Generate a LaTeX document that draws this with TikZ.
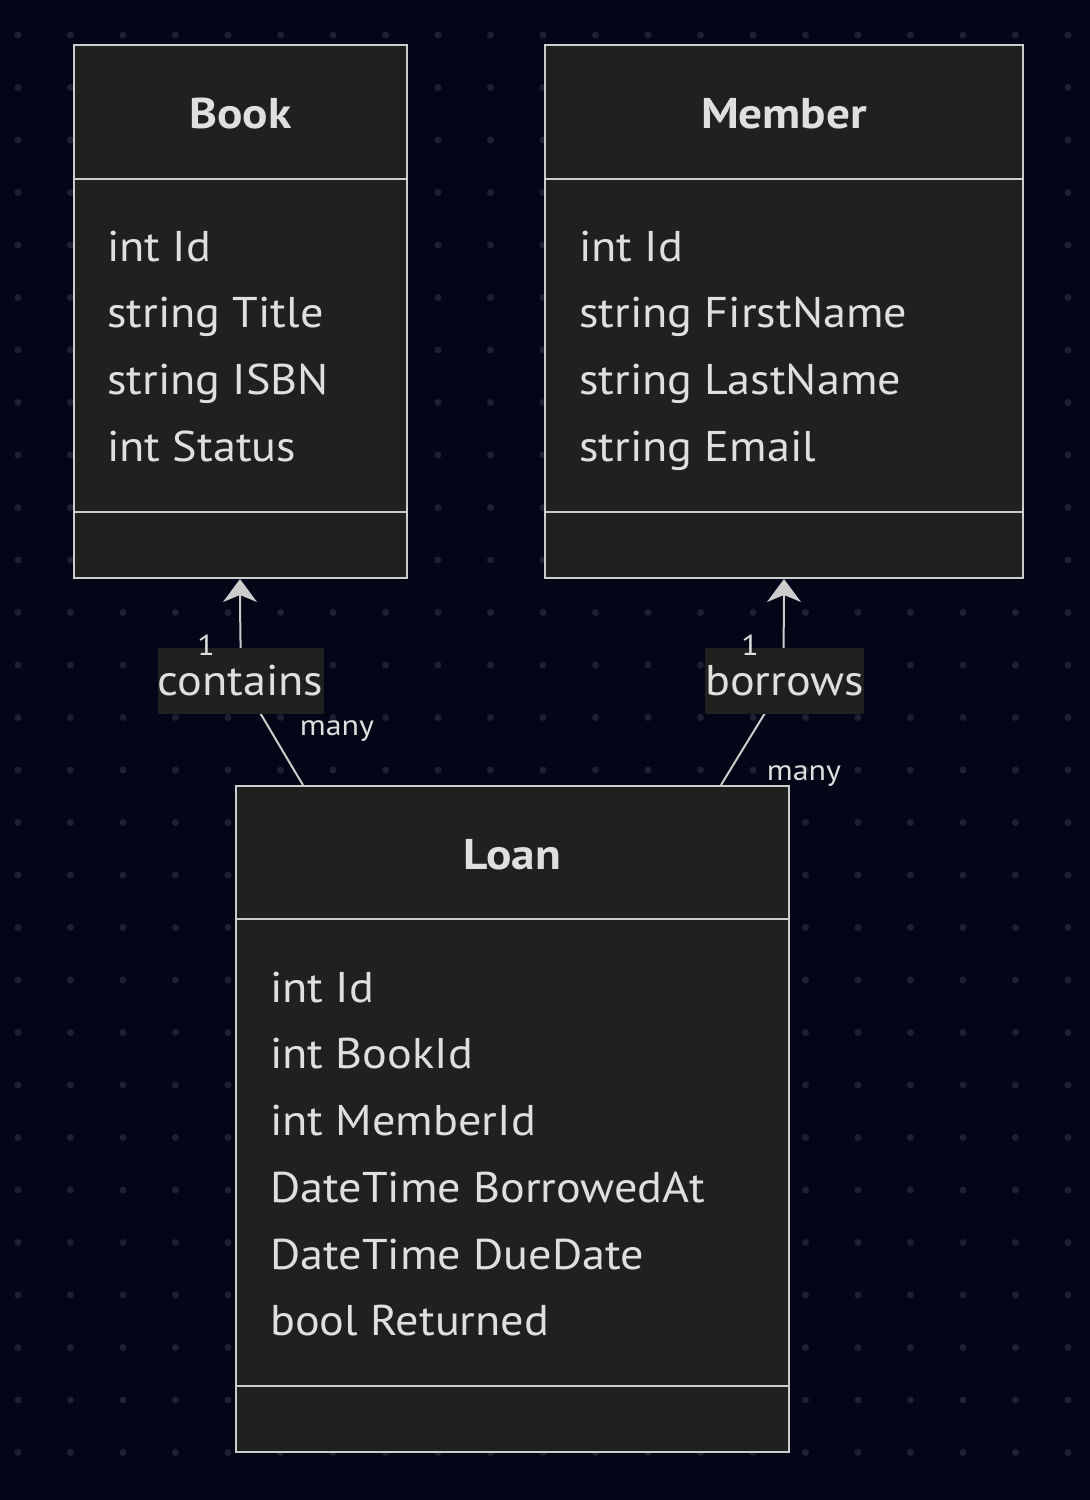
\documentclass[tikz,border=0pt]{standalone}
\usepackage{fontspec}
\setmainfont{PT Sans}
\newfontfamily\attrfont[FakeStretch=1.075]{PT Sans}
\newfontfamily\titlefont[FakeStretch=1.1]{PT Sans Bold}
\newfontfamily\cardfont[FakeStretch=1.1]{PT Sans}
\usetikzlibrary{arrows.meta}
\definecolor{bg}{HTML}{020617}
\definecolor{dotc}{HTML}{1D2030}
\definecolor{boxfill}{HTML}{1F2020}
\definecolor{boxline}{HTML}{CCCCCC}
\definecolor{txt}{HTML}{E0DFDF}
\tikzset{
  cbox/.style={draw=boxline, fill=boxfill, line width=2pt, inner sep=0pt, rectangle},
  divider/.style={draw=boxline, line width=2pt},
  attr/.style={anchor=base west, inner sep=0pt, text=txt, font=\attrfont\fontsize{43}{50}\selectfont},
  ctitle/.style={anchor=base, inner sep=0pt, text=txt, font=\titlefont\fontsize{43}{50}\selectfont},
  elabel/.style={fill=boxfill, inner sep=0pt, text=txt, minimum height=66pt, font=\attrfont\fontsize{43}{50}\selectfont},
  card/.style={anchor=base, inner sep=0pt, text=txt, font=\cardfont\fontsize{29}{30}\selectfont},
  edge/.style={draw=boxline, line width=2pt, -{Stealth[length=23pt,width=34pt,inset=7pt]}},
}
\begin{document}
\begin{tikzpicture}[x=1pt,y=-1pt]
\fill[bg] (0,0) rectangle (1090,1500);
\useasboundingbox (0,0) rectangle (1090,1500);
\foreach \i in {0,...,20} {
  \foreach \j in {0,...,27} {
    \fill[dotc] (18+52.5*\i, 35+52.5*\j) circle (3.5pt);
  }
}
% Boxes
\node[cbox, minimum width=333pt, minimum height=533pt] (book) at (240.5,311.5) {};
\node[cbox, minimum width=478pt, minimum height=533pt] (member) at (784,311.5) {};
\node[cbox, minimum width=553pt, minimum height=666pt] (loan) at (512.5,1119) {};
\draw[divider] (book.west |- 0,179) -- (book.east |- 0,179);
\draw[divider] (book.west |- 0,512) -- (book.east |- 0,512);
\draw[divider] (member.west |- 0,179) -- (member.east |- 0,179);
\draw[divider] (member.west |- 0,512) -- (member.east |- 0,512);
\draw[divider] (loan.west |- 0,919) -- (loan.east |- 0,919);
\draw[divider] (loan.west |- 0,1386) -- (loan.east |- 0,1386);
% Titles
\node[ctitle] (bookT) at (240.5,128) {Book};
\node[ctitle] (memberT) at (784,128) {Member};
\node[ctitle] (loanT) at (512.5,869) {Loan};
% Attributes
\node[attr] (b1) at (107,261) {int Id};
\node[attr] (b2) at (107,327.5) {string Title};
\node[attr] (b3) at (107,394) {string ISBN};
\node[attr] (b4) at (107,461) {int Status};
\node[attr] (m1) at (579,261) {int Id};
\node[attr] (m2) at (579,327.5) {string FirstName};
\node[attr] (m3) at (579,394) {string LastName};
\node[attr] (m4) at (579,461) {string Email};
\node[attr] (l1) at (270,1002) {int Id};
\node[attr] (l2) at (270,1068.5) {int BookId};
\node[attr] (l3) at (270,1135) {int MemberId};
\node[attr] (l4) at (270,1202) {DateTime BorrowedAt};
\node[attr] (l5) at (270,1269) {DateTime DueDate};
\node[attr] (l6) at (270,1335.5) {bool Returned};
% Edges
\coordinate (c1) at (240.5,681);
\coordinate (c2) at (784.5,681);
\draw[edge] (303,0 |- loan.north) .. controls (283,752) and (256,705) .. (c1) .. controls (241,650) and (240,620) .. (240,0 |- book.south);
\draw[edge] (721,0 |- loan.north) .. controls (741,752) and (770,705) .. (c2) .. controls (783,650) and (784,620) .. (784,0 |- member.south);
\node[elabel, minimum width=166pt] (contains) at (c1) {contains};
\node[elabel, minimum width=158pt] (borrows) at (c2) {borrows};
\node[card] (one1) at (206,655) {1};
\node[card] (many1) at (337,735) {many};
\node[card] (one2) at (750,655) {1};
\node[card] (many2) at (804,780) {many};
\end{tikzpicture}
\end{document}
